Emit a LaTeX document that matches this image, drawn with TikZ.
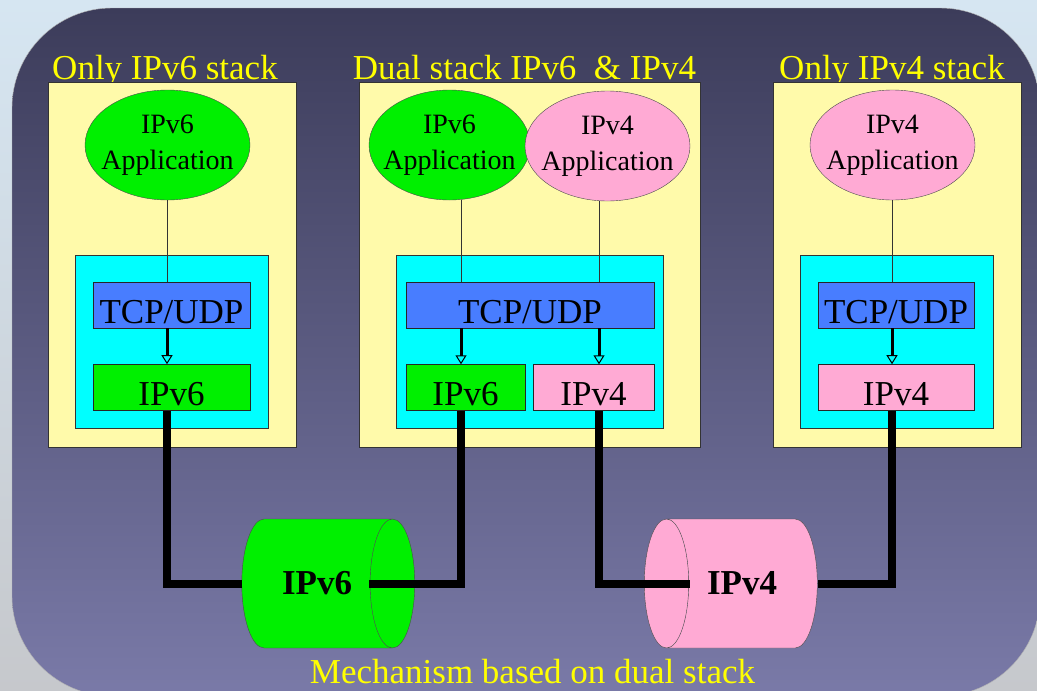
\documentclass[tikz,border=0pt]{standalone}
\usepackage{fontspec}
\setmainfont{Liberation Serif}
\usetikzlibrary{shapes.geometric,positioning,arrows.meta,calc}
\definecolor{skytop}{RGB}{214,230,242}
\definecolor{skybot}{RGB}{198,200,204}
\definecolor{bgtop}{RGB}{60,60,90}
\definecolor{bgbot}{RGB}{122,122,168}
\definecolor{hdyellow}{RGB}{255,255,0}
\definecolor{stackyellow}{RGB}{255,250,170}
\definecolor{kcyan}{RGB}{0,255,255}
\definecolor{tcpblue}{RGB}{72,125,255}
\definecolor{vsixgreen}{RGB}{0,240,0}
\definecolor{vfourpink}{RGB}{255,170,212}
\tikzset{
	header/.style={text=hdyellow, font=\fontsize{35}{40}\selectfont, anchor=base, inner sep=0pt},
	stack/.style={rectangle, draw=black!80, fill=stackyellow, minimum height=365pt, inner sep=0pt},
	kernel/.style={rectangle, draw=black!80, fill=kcyan, minimum height=173pt, inner sep=0pt},
	appl/.style={ellipse, draw=black!70, minimum height=110pt, inner xsep=-20pt, inner ysep=0pt,
		align=center, font=\fontsize{28}{36}\selectfont},
	layer/.style={rectangle, draw=black!85, minimum height=46pt, inner sep=0pt,
		text height=36pt, text depth=0pt, font=\fontsize{35}{40}\selectfont},
	tunnel/.style={cylinder, draw=black!70, aspect=1.9, minimum width=129pt, minimum height=173pt,
		inner sep=0pt, font=\bfseries\fontsize{35}{40}\selectfont, cylinder uses custom fill},
	wire/.style={line width=8pt},
	link/.style={draw=black!80, line width=1pt},
	flow/.style={line width=3pt, -{Triangle[open, line width=1pt, width=11pt, length=9pt]}}
}
\begin{document}
\begin{tikzpicture}[x=1pt, y=-1pt]
	\useasboundingbox (0,0) rectangle (1037,691);
	\clip (0,0) rectangle (1037,691);
	% fondo
	\shade[top color=skytop, bottom color=skybot] (0,0) rectangle (1037,691);
	\shadedraw[top color=bgtop, bottom color=bgbot, draw=gray!60, rounded corners=100pt] (12,8) rectangle (1040,696);
	
	% columnas
	\coordinate (colA) at (167,0);
	\coordinate (colB) at (461,0);
	\coordinate (colC) at (599,0);
	\coordinate (colD) at (892,0);
	
	\node[header] (hd6) at (165,79) {Only IPv6 stack};
	\node[header] (hdD) at (524.5,79) {Dual stack IPv6~ \& IPv4};
	\node[header] (hd4) at (892,79) {Only IPv4 stack};
	
	\node[stack, minimum width=248pt] (stack6) at (172,264.5) {};
	\node[stack, minimum width=341pt] (stackD) at (529.5,264.5) {};
	\node[stack, minimum width=248pt] (stack4) at (897,264.5) {};
	
	\node[kernel, minimum width=193pt] (ker6) at (171.5,341.5) {};
	\node[kernel, minimum width=267pt] (kerD) at (529.5,341.5) {};
	\node[kernel, minimum width=193pt] (ker4) at (896.5,341.5) {};
	
	\node[appl, fill=vsixgreen, minimum width=165pt] (app6) at (167.5,145) {IPv6\\Application};
	\node[appl, fill=vsixgreen, minimum width=161pt] (appD6) at (449.5,145) {IPv6\\Application};
	\node[appl, fill=vfourpink, minimum width=165pt] (appD4) at (607.5,146) {IPv4\\Application};
	\node[appl, fill=vfourpink, minimum width=165pt] (app4) at (892.5,145) {IPv4\\Application};
	
	\node[layer, fill=tcpblue, minimum width=157pt] (tcp6) at (171.5,305) {TCP/UDP};
	\node[layer, fill=tcpblue, minimum width=248pt] (tcpD) at (530,305) {TCP/UDP};
	\node[layer, fill=tcpblue, minimum width=156pt] (tcp4) at (896,305) {TCP/UDP};
	
	\node[layer, fill=vsixgreen, minimum width=157pt, below=36pt of tcp6] (ip6) {IPv6};
	\node[layer, fill=vsixgreen, minimum width=119pt] (ipD6) at (465.5,387.5) {IPv6};
	\node[layer, fill=vfourpink, minimum width=121pt] (ipD4) at (593.5,387.5) {IPv4};
	\node[layer, fill=vfourpink, minimum width=156pt, below=36pt of tcp4] (ip4) {IPv4};
	
	\node[tunnel, cylinder body fill=vsixgreen, cylinder end fill=vsixgreen] (net6) at (317,583.5) {IPv6};
	\node[tunnel, shape border rotate=180, cylinder body fill=vfourpink, cylinder end fill=vfourpink] (net4) at (742,583.5) {IPv4};
	
	% enlaces
	\draw[link] (app6.south -| colA) -- (tcp6.north -| colA);
	\draw[link] (appD6.south -| colB) -- (tcpD.north -| colB);
	\draw[link] (appD4.south -| colC) -- (tcpD.north -| colC);
	\draw[link] (app4.south -| colD) -- (tcp4.north -| colD);
	
	\draw[flow] (tcp6.south -| colA) -- (ip6.north -| colA);
	\draw[flow] (tcpD.south -| colB) -- (ipD6.north -| colB);
	\draw[flow] (tcpD.south -| colC) -- (ipD4.north -| colC);
	\draw[flow] (tcp4.south -| colD) -- (ip4.north -| colD);
	
	\draw[wire] (ip6.south -| colA) |- (net6.west);
	\draw[wire] (ipD6.south -| colB) |- ($(net6.east)+(-46,0)$);
	\draw[wire] (ipD4.south -| colC) |- ($(net4.west)+(46,0)$);
	\draw[wire] (ip4.south -| colD) |- (net4.east);
	
	\node[header] (hdB) at (532.5,683) {Mechanism based on dual stack};
\end{tikzpicture}
\end{document}
